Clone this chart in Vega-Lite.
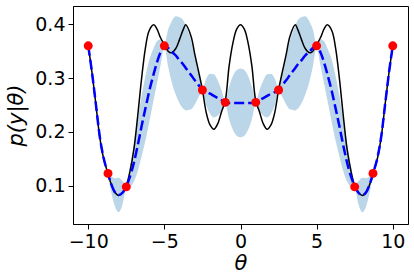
{
  "$schema": "https://vega.github.io/schema/vega-lite/v6.json",
  "width": 335,
  "height": 218,
  "autosize": "none",
  "padding": {"left": 73, "top": 6, "right": 6, "bottom": 56},
  "background": "white",
  "config": {
    "font": "DejaVu Sans",
    "view": {"stroke": "black", "strokeWidth": 1},
    "axis": {
      "grid": false,
      "domainColor": "black",
      "tickColor": "black",
      "tickSize": 5,
      "labelFontSize": 19,
      "labelColor": "black",
      "titleColor": "black",
      "titleFontWeight": "normal",
      "titleFontSize": 21,
      "titleFontStyle": "italic"
    }
  },
  "datasets": {
    "curve": [
      {"x": -10, "truth": 0.360, "mean": 0.360, "lo": 0.357, "hi": 0.363},
      {"x": -9.75, "truth": 0.310, "mean": 0.310, "lo": 0.305, "hi": 0.315},
      {"x": -9.5, "truth": 0.252, "mean": 0.252, "lo": 0.246, "hi": 0.258},
      {"x": -9.25, "truth": 0.192, "mean": 0.193, "lo": 0.187, "hi": 0.199},
      {"x": -9, "truth": 0.152, "mean": 0.153, "lo": 0.148, "hi": 0.158},
      {"x": -8.75, "truth": 0.127, "mean": 0.127, "lo": 0.125, "hi": 0.129},
      {"x": -8.5, "truth": 0.104, "mean": 0.104, "lo": 0.090, "hi": 0.118},
      {"x": -8.25, "truth": 0.088, "mean": 0.088, "lo": 0.062, "hi": 0.114},
      {"x": -8, "truth": 0.082, "mean": 0.083, "lo": 0.051, "hi": 0.115},
      {"x": -7.75, "truth": 0.087, "mean": 0.087, "lo": 0.065, "hi": 0.109},
      {"x": -7.5, "truth": 0.100, "mean": 0.099, "lo": 0.096, "hi": 0.102},
      {"x": -7.25, "truth": 0.128, "mean": 0.118, "lo": 0.098, "hi": 0.138},
      {"x": -7, "truth": 0.168, "mean": 0.143, "lo": 0.108, "hi": 0.178},
      {"x": -6.75, "truth": 0.230, "mean": 0.175, "lo": 0.127, "hi": 0.223},
      {"x": -6.5, "truth": 0.298, "mean": 0.210, "lo": 0.154, "hi": 0.266},
      {"x": -6.25, "truth": 0.355, "mean": 0.243, "lo": 0.183, "hi": 0.303},
      {"x": -6, "truth": 0.388, "mean": 0.275, "lo": 0.217, "hi": 0.333},
      {"x": -5.7, "truth": 0.399, "mean": 0.308, "lo": 0.260, "hi": 0.356},
      {"x": -5.5, "truth": 0.392, "mean": 0.328, "lo": 0.288, "hi": 0.368},
      {"x": -5.25, "truth": 0.375, "mean": 0.348, "lo": 0.324, "hi": 0.372},
      {"x": -5, "truth": 0.362, "mean": 0.360, "lo": 0.357, "hi": 0.363},
      {"x": -4.75, "truth": 0.350, "mean": 0.356, "lo": 0.321, "hi": 0.391},
      {"x": -4.55, "truth": 0.347, "mean": 0.350, "lo": 0.296, "hi": 0.404},
      {"x": -4.25, "truth": 0.355, "mean": 0.342, "lo": 0.269, "hi": 0.415},
      {"x": -4, "truth": 0.372, "mean": 0.333, "lo": 0.253, "hi": 0.413},
      {"x": -3.75, "truth": 0.391, "mean": 0.325, "lo": 0.243, "hi": 0.407},
      {"x": -3.6, "truth": 0.399, "mean": 0.319, "lo": 0.240, "hi": 0.398},
      {"x": -3.25, "truth": 0.378, "mean": 0.306, "lo": 0.242, "hi": 0.370},
      {"x": -3, "truth": 0.344, "mean": 0.296, "lo": 0.251, "hi": 0.341},
      {"x": -2.75, "truth": 0.312, "mean": 0.287, "lo": 0.265, "hi": 0.309},
      {"x": -2.5, "truth": 0.278, "mean": 0.278, "lo": 0.275, "hi": 0.281},
      {"x": -2.25, "truth": 0.236, "mean": 0.274, "lo": 0.249, "hi": 0.299},
      {"x": -2, "truth": 0.213, "mean": 0.271, "lo": 0.234, "hi": 0.308},
      {"x": -1.75, "truth": 0.205, "mean": 0.267, "lo": 0.227, "hi": 0.307},
      {"x": -1.5, "truth": 0.215, "mean": 0.263, "lo": 0.230, "hi": 0.296},
      {"x": -1.25, "truth": 0.237, "mean": 0.259, "lo": 0.240, "hi": 0.278},
      {"x": -1, "truth": 0.258, "mean": 0.255, "lo": 0.252, "hi": 0.258},
      {"x": -0.75, "truth": 0.322, "mean": 0.254, "lo": 0.224, "hi": 0.284},
      {"x": -0.5, "truth": 0.365, "mean": 0.254, "lo": 0.204, "hi": 0.304},
      {"x": -0.25, "truth": 0.391, "mean": 0.254, "lo": 0.193, "hi": 0.315},
      {"x": 0, "truth": 0.399, "mean": 0.254, "lo": 0.190, "hi": 0.318},
      {"x": 0.25, "truth": 0.391, "mean": 0.254, "lo": 0.193, "hi": 0.315},
      {"x": 0.5, "truth": 0.365, "mean": 0.254, "lo": 0.204, "hi": 0.304},
      {"x": 0.75, "truth": 0.322, "mean": 0.254, "lo": 0.224, "hi": 0.284},
      {"x": 1, "truth": 0.258, "mean": 0.255, "lo": 0.252, "hi": 0.258},
      {"x": 1.25, "truth": 0.237, "mean": 0.259, "lo": 0.240, "hi": 0.278},
      {"x": 1.5, "truth": 0.215, "mean": 0.263, "lo": 0.230, "hi": 0.296},
      {"x": 1.75, "truth": 0.205, "mean": 0.267, "lo": 0.227, "hi": 0.307},
      {"x": 2, "truth": 0.213, "mean": 0.271, "lo": 0.234, "hi": 0.308},
      {"x": 2.25, "truth": 0.236, "mean": 0.274, "lo": 0.249, "hi": 0.299},
      {"x": 2.5, "truth": 0.278, "mean": 0.278, "lo": 0.275, "hi": 0.281},
      {"x": 2.75, "truth": 0.312, "mean": 0.287, "lo": 0.265, "hi": 0.309},
      {"x": 3, "truth": 0.344, "mean": 0.296, "lo": 0.251, "hi": 0.341},
      {"x": 3.25, "truth": 0.378, "mean": 0.306, "lo": 0.242, "hi": 0.370},
      {"x": 3.6, "truth": 0.399, "mean": 0.319, "lo": 0.240, "hi": 0.398},
      {"x": 3.75, "truth": 0.391, "mean": 0.325, "lo": 0.243, "hi": 0.407},
      {"x": 4, "truth": 0.372, "mean": 0.333, "lo": 0.253, "hi": 0.413},
      {"x": 4.25, "truth": 0.355, "mean": 0.342, "lo": 0.269, "hi": 0.415},
      {"x": 4.55, "truth": 0.347, "mean": 0.350, "lo": 0.296, "hi": 0.404},
      {"x": 4.75, "truth": 0.350, "mean": 0.356, "lo": 0.321, "hi": 0.391},
      {"x": 5, "truth": 0.362, "mean": 0.360, "lo": 0.357, "hi": 0.363},
      {"x": 5.25, "truth": 0.375, "mean": 0.348, "lo": 0.324, "hi": 0.372},
      {"x": 5.5, "truth": 0.392, "mean": 0.328, "lo": 0.288, "hi": 0.368},
      {"x": 5.7, "truth": 0.399, "mean": 0.308, "lo": 0.260, "hi": 0.356},
      {"x": 6, "truth": 0.388, "mean": 0.275, "lo": 0.217, "hi": 0.333},
      {"x": 6.25, "truth": 0.355, "mean": 0.243, "lo": 0.183, "hi": 0.303},
      {"x": 6.5, "truth": 0.298, "mean": 0.210, "lo": 0.154, "hi": 0.266},
      {"x": 6.75, "truth": 0.230, "mean": 0.175, "lo": 0.127, "hi": 0.223},
      {"x": 7, "truth": 0.168, "mean": 0.143, "lo": 0.108, "hi": 0.178},
      {"x": 7.25, "truth": 0.128, "mean": 0.118, "lo": 0.098, "hi": 0.138},
      {"x": 7.5, "truth": 0.100, "mean": 0.099, "lo": 0.096, "hi": 0.102},
      {"x": 7.75, "truth": 0.087, "mean": 0.087, "lo": 0.065, "hi": 0.109},
      {"x": 8, "truth": 0.082, "mean": 0.083, "lo": 0.051, "hi": 0.115},
      {"x": 8.25, "truth": 0.088, "mean": 0.088, "lo": 0.062, "hi": 0.114},
      {"x": 8.5, "truth": 0.104, "mean": 0.104, "lo": 0.090, "hi": 0.118},
      {"x": 8.75, "truth": 0.127, "mean": 0.127, "lo": 0.125, "hi": 0.129},
      {"x": 9, "truth": 0.152, "mean": 0.153, "lo": 0.148, "hi": 0.158},
      {"x": 9.25, "truth": 0.192, "mean": 0.193, "lo": 0.187, "hi": 0.199},
      {"x": 9.5, "truth": 0.252, "mean": 0.252, "lo": 0.246, "hi": 0.258},
      {"x": 9.75, "truth": 0.310, "mean": 0.310, "lo": 0.305, "hi": 0.315},
      {"x": 10, "truth": 0.360, "mean": 0.360, "lo": 0.357, "hi": 0.363}
    ],
    "obs": [
      {"x": -10, "y": 0.360},
      {"x": -8.7, "y": 0.123},
      {"x": -7.5, "y": 0.098},
      {"x": -5, "y": 0.360},
      {"x": -2.5, "y": 0.278},
      {"x": -1, "y": 0.255},
      {"x": 1, "y": 0.255},
      {"x": 2.5, "y": 0.278},
      {"x": 5, "y": 0.360},
      {"x": 7.5, "y": 0.098},
      {"x": 8.7, "y": 0.123},
      {"x": 10, "y": 0.360}
    ]
  },
  "layer": [
    {
      "data": {"name": "curve"},
      "mark": {"type": "area", "color": "#1f77b4", "opacity": 0.3, "interpolate": "monotone"},
      "encoding": {
        "x": {"field": "x", "type": "quantitative", "scale": {"domain": [-11, 11], "nice": false, "zero": false},
              "axis": {"values": [-10, -5, 0, 5, 10], "format": "d", "labelExpr": "replace(datum.label, '-', '\u2212')", "title": "θ", "titlePadding": 1, "labelPadding": 3}},
        "y": {"field": "lo", "type": "quantitative", "scale": {"domain": [0.029, 0.434], "nice": false, "zero": false},
              "axis": {"values": [0.1, 0.2, 0.3, 0.4], "format": ".1f", "title": "p(y|θ)", "titlePadding": 8, "labelPadding": 3}},
        "y2": {"field": "hi"}
      }
    },
    {
      "data": {"name": "curve"},
      "mark": {"type": "line", "color": "black", "strokeWidth": 1.5, "interpolate": "catmull-rom"},
      "encoding": {
        "x": {"field": "x", "type": "quantitative"},
        "y": {"field": "truth", "type": "quantitative"}
      }
    },
    {
      "data": {"name": "curve"},
      "mark": {"type": "line", "color": "#0000ff", "strokeWidth": 2.5, "strokeDash": [10, 4], "interpolate": "monotone"},
      "encoding": {
        "x": {"field": "x", "type": "quantitative"},
        "y": {"field": "mean", "type": "quantitative"}
      }
    },
    {
      "data": {"name": "obs"},
      "mark": {"type": "circle", "color": "#ff0000", "opacity": 1, "size": 80},
      "encoding": {
        "x": {"field": "x", "type": "quantitative"},
        "y": {"field": "y", "type": "quantitative"}
      }
    }
  ]
}
